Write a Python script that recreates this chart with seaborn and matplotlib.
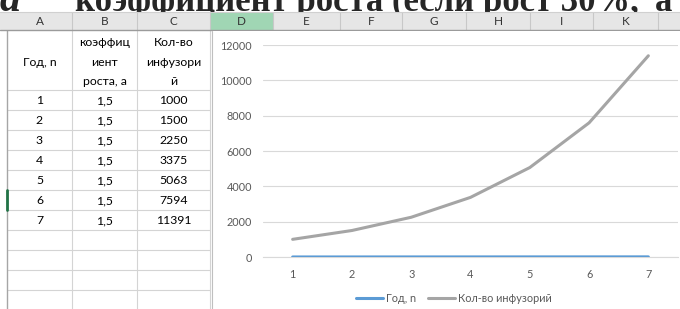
import matplotlib
matplotlib.use("Agg")
import matplotlib.pyplot as plt
import seaborn as sns
import pandas as pd

# table / chart data
years = [1, 2, 3, 4, 5, 6, 7]
coef_labels = ["1,5"] * 7
counts = [1000, 1500, 2250, 3375, 5063, 7594, 11391]
series_names = ["Год, n", "Кол-во инфузорий"]
col_letters = ["A", "B", "C", "D", "E", "F", "G", "H", "I", "K"]
col_edges = [7, 72, 137, 210, 273, 340, 402, 466, 530, 593, 658, 680]
header_a = ["Год, n"]
header_b = ["коэффиц", "иент", "роста, а"]
header_c = ["Кол-во", "инфузори", "й"]
y_ticks = [0, 2000, 4000, 6000, 8000, 10000, 12000]
title_main = "коэффициент роста (если рост 30%,"

BLUE = "#5b9bd5"
GRAY = "#a5a5a5"
TXT = "#595959"

sns.set_theme(style="white")
plt.rcParams["font.family"] = ["Lato", "DejaVu Sans"]

W, H = 680, 309
fig = plt.figure(figsize=(W / 100, H / 100), dpi=100)
fig.patch.set_facecolor("white")

# background axes in pixel coordinates for the spreadsheet part
bg = fig.add_axes([0, 0, 1, 1])
bg.set_xlim(0, W)
bg.set_ylim(H, 0)
bg.axis("off")

# cut-off title line from the document above; only the strip above the header shows
strip = plt.Rectangle((0, 0), W, 12, transform=bg.transData)
t_a = bg.text(0, 11, "a", fontsize=30, fontweight="bold", fontstyle="italic",
              family="Liberation Serif", va="baseline", zorder=1)
t_main = bg.text(75, 11, title_main, fontsize=30, fontweight="bold",
                 family="Liberation Serif", va="baseline", zorder=1)
fig.canvas.draw()
w_now = t_main.get_window_extent(fig.canvas.get_renderer()).width
t_main.set_fontsize(30 * 565 / w_now)
t_end = bg.text(655, 11, "а", fontsize=30 * 565 / w_now, fontweight="bold",
                family="Liberation Serif", va="baseline", zorder=1)
for t in (t_a, t_main, t_end):
    t.set_clip_path(strip)

# column header bar
bg.add_patch(plt.Rectangle((0, 12), W, 18, facecolor="#e6e6e6", edgecolor="none", zorder=2))
for i, letter in enumerate(col_letters):
    x0, x1 = col_edges[i], col_edges[i + 1]
    if letter == "D":
        bg.add_patch(plt.Rectangle((x0, 12), x1 - x0, 18, facecolor="#a0d6b4",
                                   edgecolor="none", zorder=2.1))
    bg.text((x0 + x1) / 2, 21.5, letter, fontsize=8.5, color="#333333",
            ha="center", va="center", zorder=3)
for x in col_edges[1:-1]:
    bg.plot([x, x], [12, 30], color="#c8c8c8", lw=0.8, zorder=2.5)
bg.plot([0, W], [12, 12], color="#d0d0d0", lw=0.8, zorder=2.5)
bg.plot([0, W], [30, 30], color="#9b9b9b", lw=1.0, zorder=2.6)

# cell grid of the table
grid_c = "#d4d4d4"
row_lines = list(range(90, 310, 20))
for y in row_lines:
    bg.plot([7, 210], [y, y], color=grid_c, lw=0.8, zorder=1.5)
for x in [72, 137, 210]:
    bg.plot([x, x], [30, H], color=grid_c, lw=0.8, zorder=1.5)
bg.plot([7, 7], [30, H], color="#a6a6a6", lw=1.0, zorder=1.6)
bg.plot([7, 7], [190, 210], color="#217346", lw=2.0, zorder=1.7)

# header cells
fs = 8.8
bg.text(39.5, 62, header_a[0], fontsize=fs, ha="center", va="center", color="black")
for yy, t in zip([42, 62, 81.5], header_b):
    bg.text(104.5, yy, t, fontsize=fs, ha="center", va="center", color="black")
for yy, t in zip([42, 62, 81.5], header_c):
    bg.text(173.5, yy, t, fontsize=fs, ha="center", va="center", color="black")

# data rows
for i, (yr, cf, n) in enumerate(zip(years, coef_labels, counts)):
    yc = 100.5 + 20 * i
    bg.text(39.5, yc, str(yr), fontsize=fs, ha="center", va="center", color="black")
    bg.text(104.5, yc, cf, fontsize=fs, ha="center", va="center", color="black")
    bg.text(173.5, yc, str(n), fontsize=fs, ha="center", va="center", color="black")

# chart object area
bg.add_patch(plt.Rectangle((212, 31), W - 212, H - 31, facecolor="white",
                           edgecolor="none", zorder=4))
bg.plot([212, 212], [31, H], color="#bfbfbf", lw=0.8, zorder=4.5)

# line chart
ax = fig.add_axes([263 / W, (H - 257) / H, 415 / W, 212 / H])
ax.set_facecolor("none")
df = pd.DataFrame({
    "x": years + years,
    "value": years + counts,
    "series": [series_names[0]] * len(years) + [series_names[1]] * len(counts),
})
sns.lineplot(data=df, x="x", y="value", hue="series", hue_order=series_names,
             palette=[BLUE, GRAY], linewidth=2.2, ax=ax, legend=False, zorder=3)

ax.set_xlim(0.5, 7.5)
ax.set_ylim(0, 12000)
ax.set_yticks(y_ticks)
ax.set_yticklabels([str(v) for v in y_ticks])
ax.set_xticks(years)
ax.set_xticklabels([str(v) for v in years])
ax.yaxis.grid(True, color="#d9d9d9", lw=0.8)
ax.set_axisbelow(True)
for s in ["top", "right", "left"]:
    ax.spines[s].set_visible(False)
ax.spines["bottom"].set_color("#d9d9d9")
ax.spines["bottom"].set_linewidth(0.8)
ax.tick_params(axis="both", length=0, labelsize=7.8, labelcolor=TXT)
ax.tick_params(axis="y", pad=8)
ax.tick_params(axis="x", pad=9)
ax.set_xlabel("")
ax.set_ylabel("")

handles = [plt.Line2D([], [], color=BLUE, lw=2.2), plt.Line2D([], [], color=GRAY, lw=2.2)]
leg = fig.legend(handles, series_names, loc="center", ncol=2, frameon=False,
                 bbox_to_anchor=(454 / W, 1 - 298 / H), fontsize=7.8,
                 handlelength=2.5, handletextpad=0.25, columnspacing=1.1)
for t in leg.get_texts():
    t.set_color(TXT)

fig.savefig("out.png", dpi=100)
